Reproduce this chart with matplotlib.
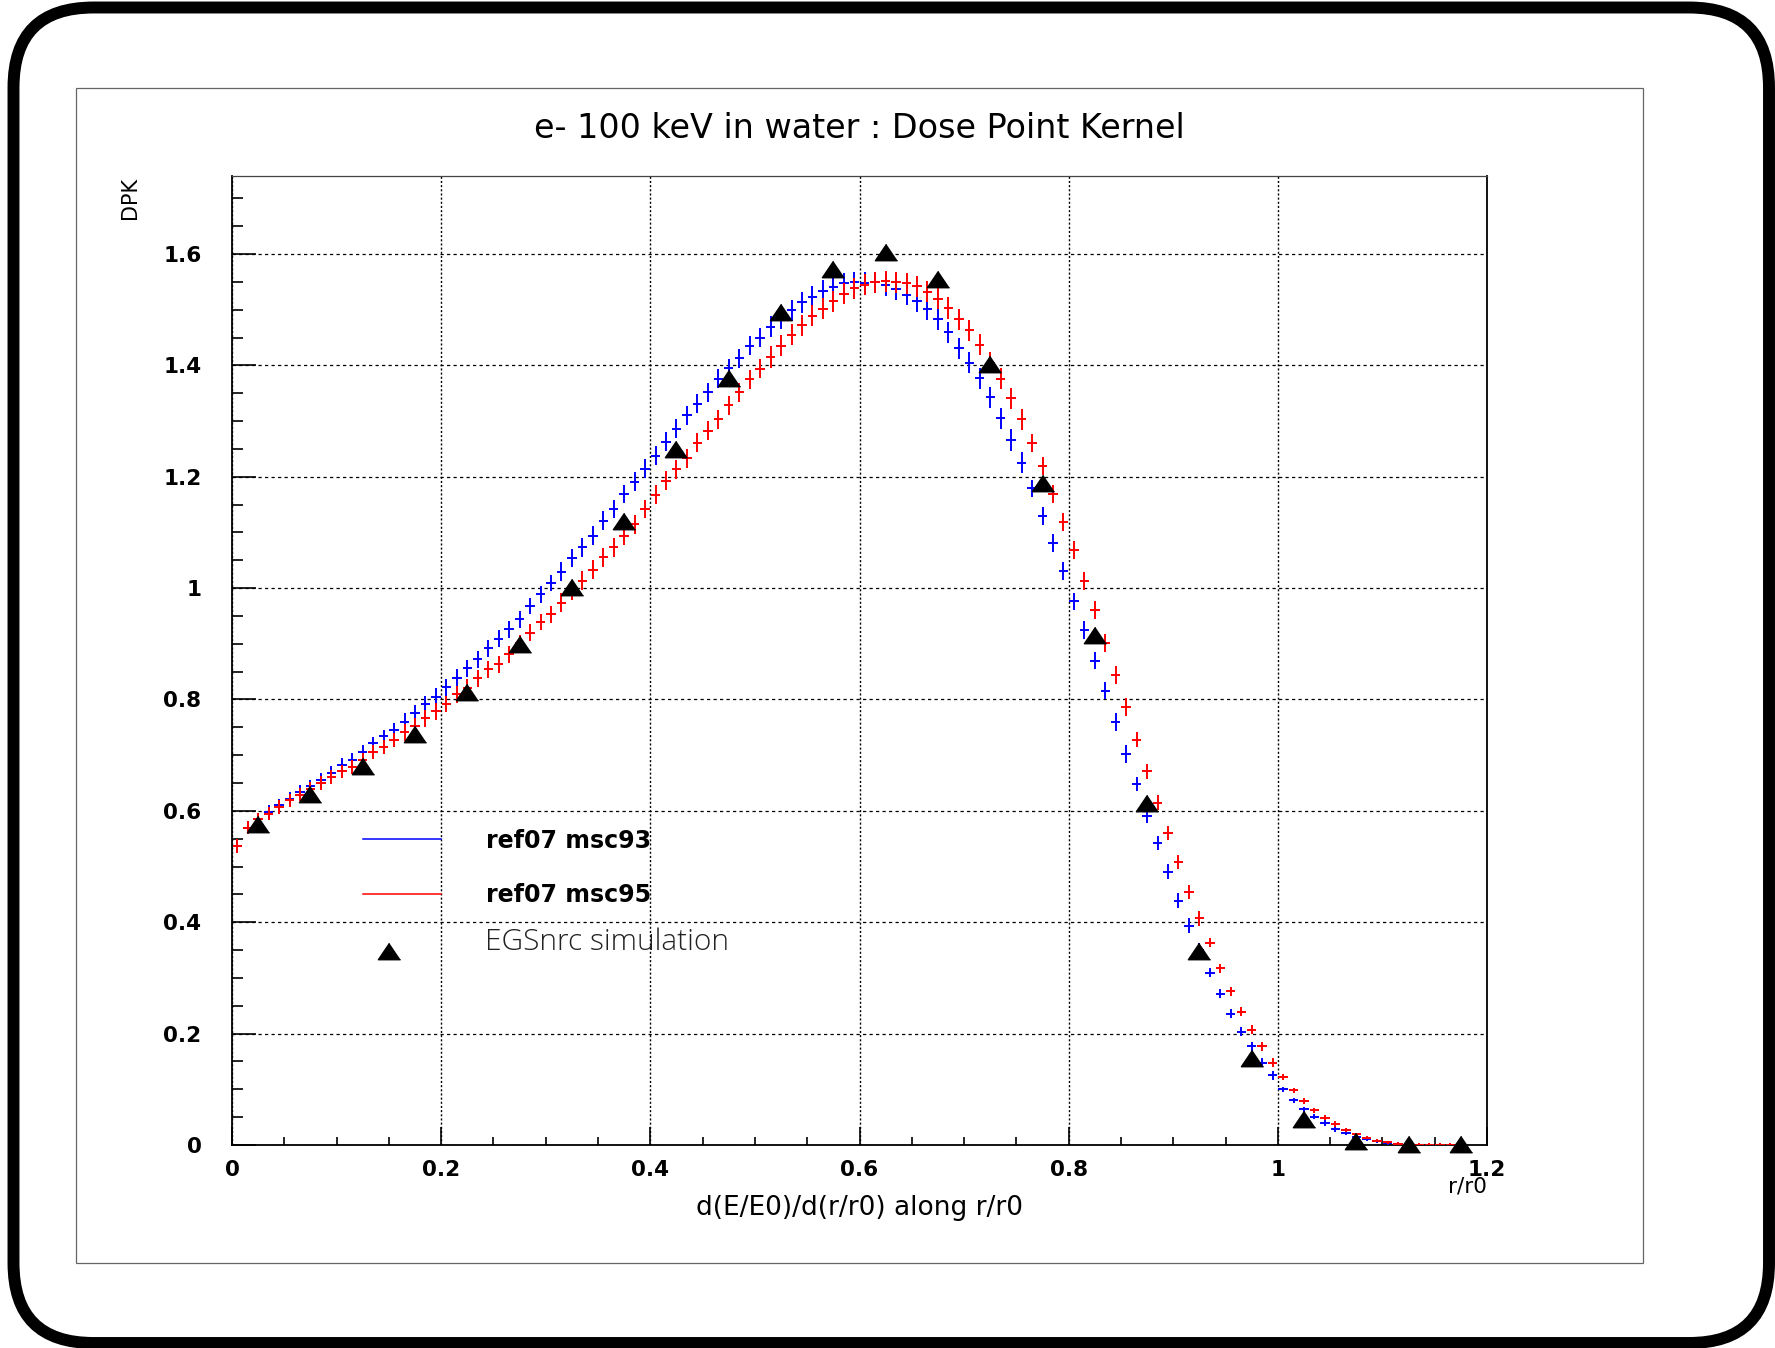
import matplotlib.pyplot as plt
import numpy as np
from matplotlib.patches import FancyBboxPatch, Rectangle
from matplotlib.ticker import MultipleLocator, FormatStrFormatter

# Dose point kernel, e- 100 keV in water, 0.01 wide bins in r/r0
bin_width = 0.01
msc93 = [0.537, 0.570, 0.585, 0.598, 0.610, 0.622, 0.634, 0.644, 0.656, 0.668,
         0.683, 0.692, 0.706, 0.721, 0.734, 0.746, 0.760, 0.775, 0.791, 0.805,
         0.822, 0.839, 0.856, 0.872, 0.892, 0.909, 0.926, 0.944, 0.968, 0.989,
         1.009, 1.029, 1.054, 1.073, 1.094, 1.121, 1.142, 1.169, 1.191, 1.214,
         1.238, 1.263, 1.286, 1.310, 1.331, 1.352, 1.376, 1.395, 1.413, 1.435,
         1.450, 1.469, 1.485, 1.499, 1.513, 1.523, 1.534, 1.541, 1.547, 1.549,
         1.548, 1.549, 1.544, 1.537, 1.527, 1.515, 1.501, 1.483, 1.459, 1.431,
         1.405, 1.377, 1.343, 1.305, 1.266, 1.225, 1.179, 1.129, 1.081, 1.031,
         0.976, 0.925, 0.870, 0.816, 0.759, 0.702, 0.648, 0.591, 0.542, 0.491,
         0.439, 0.394, 0.350, 0.309, 0.272, 0.236, 0.203, 0.177, 0.148, 0.125,
         0.100, 0.080, 0.064, 0.051, 0.039, 0.029, 0.021, 0.015, 0.010, 0.0065,
         0.0035, 0.002, 0.001, 0.0005, 0.0002, 0.0001, 0.0, 0.0]
msc95 = [0.537, 0.570, 0.585, 0.595, 0.607, 0.619, 0.629, 0.640, 0.650, 0.661,
         0.671, 0.679, 0.692, 0.706, 0.715, 0.727, 0.741, 0.752, 0.766, 0.779,
         0.792, 0.809, 0.821, 0.838, 0.854, 0.863, 0.881, 0.901, 0.920, 0.939,
         0.953, 0.974, 0.995, 1.013, 1.033, 1.055, 1.073, 1.094, 1.115, 1.142,
         1.168, 1.193, 1.213, 1.233, 1.261, 1.283, 1.303, 1.328, 1.352, 1.375,
         1.394, 1.415, 1.435, 1.455, 1.472, 1.489, 1.502, 1.515, 1.529, 1.538,
         1.545, 1.549, 1.551, 1.549, 1.547, 1.542, 1.532, 1.520, 1.503, 1.483,
         1.463, 1.437, 1.405, 1.376, 1.341, 1.303, 1.261, 1.219, 1.169, 1.118,
         1.068, 1.013, 0.960, 0.902, 0.844, 0.787, 0.728, 0.671, 0.615, 0.560,
         0.508, 0.454, 0.407, 0.363, 0.317, 0.276, 0.239, 0.207, 0.177, 0.148,
         0.122, 0.098, 0.079, 0.062, 0.049, 0.038, 0.027, 0.019, 0.013, 0.008,
         0.005, 0.002, 0.001, 0.0005, 0.0002, 0.0001, 0.0, 0.0]
# statistical error per bin (about the same for both runs)
dpk_err = ([0.012] * 16 + [0.015] * 15 + [0.017] * 20 + [0.019] * 25 +
           [0.016] * 10 + [0.013] * 7 + [0.008] * 7 + [0.005] * 6 + [0.003] * 12)

# EGSnrc reference points
egs_r = [0.025, 0.075, 0.125, 0.175, 0.225, 0.275, 0.325, 0.375, 0.425, 0.475,
         0.525, 0.575, 0.625, 0.675, 0.725, 0.775, 0.825, 0.875, 0.925, 0.975,
         1.025, 1.075, 1.125, 1.175]
egs_dpk = [0.577, 0.630, 0.681, 0.738, 0.814, 0.899, 1.002, 1.121, 1.249, 1.377,
           1.495, 1.573, 1.603, 1.555, 1.403, 1.189, 0.915, 0.614, 0.349, 0.157,
           0.047, 0.008, 0.002, 0.001]

r = np.arange(len(msc93)) * bin_width + bin_width / 2

W, H = 1775, 1348
fig = plt.figure(figsize=(W / 100, H / 100), dpi=100)

# canvas decorations, in pixel units
deco = fig.add_axes([0, 0, 1, 1])
deco.set_xlim(0, W)
deco.set_ylim(H, 0)
deco.axis('off')
deco.set_zorder(5)
deco.patch.set_visible(False)
deco.add_patch(FancyBboxPatch((13.5, 7.5), 1755.5, 1335.5,
                              boxstyle='round,pad=0,rounding_size=80',
                              fill=False, ec='black', lw=8.6))
deco.add_patch(Rectangle((76, 88), 1567, 1175, fill=False, ec='#666666', lw=0.9))

ax = fig.add_axes([232 / W, 1 - 1145 / H, 1255 / W, 969 / H])
ax.set_xlim(0, 1.2)
ax.set_ylim(0, 1.74)

ax.errorbar(r, msc93, xerr=0.0045, yerr=dpk_err, fmt='none',
            ecolor='blue', elinewidth=1.4, capsize=0, zorder=3)
ax.errorbar(r, msc95, xerr=0.0045, yerr=dpk_err, fmt='none',
            ecolor='red', elinewidth=1.4, capsize=0, zorder=3)
tri = [(0, 1), (-1.35, -1), (1.35, -1)]
ax.plot(egs_r, egs_dpk, linestyle='none', marker=tri, ms=16,
        color='black', zorder=4, clip_on=False)

ax.xaxis.set_major_locator(MultipleLocator(0.2))
ax.xaxis.set_minor_locator(MultipleLocator(0.05))
ax.yaxis.set_major_locator(MultipleLocator(0.2))
ax.yaxis.set_minor_locator(MultipleLocator(0.05))
ax.xaxis.set_major_formatter(FormatStrFormatter('%g'))
ax.yaxis.set_major_formatter(FormatStrFormatter('%g'))
ax.tick_params(which='both', direction='in', top=False, right=False, width=1.2)
ax.tick_params(axis='y', which='major', length=17, pad=22)
ax.tick_params(axis='y', which='minor', length=8)
ax.tick_params(axis='x', which='major', length=13, pad=11)
ax.tick_params(axis='x', which='minor', length=6)
for lab in ax.get_xticklabels() + ax.get_yticklabels():
    lab.set_fontsize(15.5)
    lab.set_fontweight('bold')

ax.grid(axis='y', which='major', color='black', lw=0.9, linestyle=(0, (2.6, 2.6)))
ax.grid(axis='x', which='major', color='black', lw=1.0, linestyle=(0, (1.5, 1.5)))
ax.set_axisbelow(True)
for side in ('left', 'bottom', 'right'):
    ax.spines[side].set_linewidth(1.3)
ax.spines['top'].set_linewidth(0.9)
ax.spines['top'].set_color('#444444')

fig.text(859 / W, 1 - 128 / H, 'e- 100 keV in water : Dose Point Kernel',
         ha='center', va='center', fontsize=24)
fig.text(859 / W, 1 - 1208 / H, 'd(E/E0)/d(r/r0) along r/r0',
         ha='center', va='center', fontsize=19)
fig.text(1487 / W, 1 - 1186 / H, 'r/r0', ha='right', va='center', fontsize=15.5)
fig.text(130 / W, 1 - 177 / H, 'DPK', rotation=90, ha='center', va='top',
         fontsize=15)

# legend
deco.plot([363, 441], [839, 839], color='blue', lw=1.1)
deco.plot([363, 441], [894, 894], color='red', lw=1.1)
deco.plot([389], [951], linestyle='none', marker=tri, ms=16, color='black')
deco.text(486, 841, 'ref07 msc93', ha='left', va='center', fontsize=17,
          fontweight='bold')
deco.text(486, 895, 'ref07 msc95', ha='left', va='center', fontsize=17,
          fontweight='bold')
deco.text(485, 942, 'EGSnrc simulation', ha='left', va='center', fontsize=21.5,
          family=['Open Sans', 'DejaVu Sans'], fontweight='light', color='#222222')

fig.savefig('out.png', dpi=100)
